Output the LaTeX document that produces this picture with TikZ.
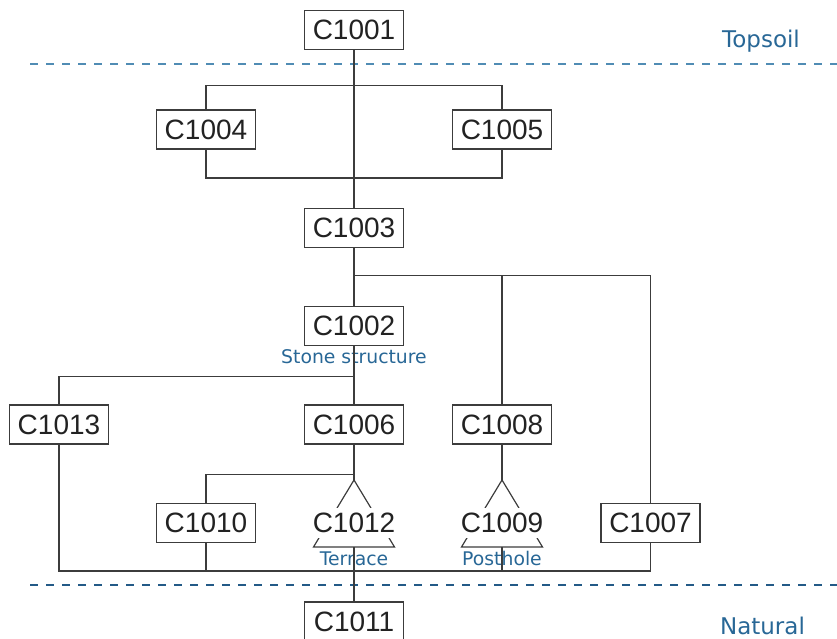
\documentclass[tikz,border=0pt]{standalone}
\usepackage{fontspec}
\setmainfont{Liberation Sans}
\newfontfamily\labelfont{DejaVu Sans}
\usetikzlibrary{calc}
\definecolor{ink}{HTML}{222222}
\definecolor{wire}{HTML}{3C3C3C}
\definecolor{zone}{RGB}{40,103,150}
\definecolor{topdash}{RGB}{80,140,180}
\definecolor{lowdash}{RGB}{35,90,135}

\begin{document}
\begin{tikzpicture}[x=1pt,y=-1pt,
  ctx/.style={draw=wire, line width=1.2pt, minimum width=99pt, minimum height=39pt,
    inner sep=0pt, text=ink, font=\fontsize{28}{28}\selectfont},
  ctxfree/.style={fill=white, minimum height=30pt, inner sep=0pt, text=ink,
    font=\fontsize{28}{28}\selectfont},
  link/.style={draw=wire, line width=1.2pt},
  note/.style={text=zone, font=\labelfont\fontsize{18.8}{18.8}\selectfont,
    inner sep=0pt, anchor=base},
  zonelabel/.style={text=zone, font=\labelfont\fontsize{23}{23}\selectfont,
    inner sep=0pt, anchor=base},
  boundary/.style={line width=1.3pt, dash pattern=on 8pt off 8pt}]
\useasboundingbox (0,0) rectangle (837,639);

% layer boundaries
\coordinate (topL) at (30,64);   \coordinate (topR) at (837,64);
\coordinate (lowL) at (30,585);  \coordinate (lowR) at (837,585);
\draw[boundary, topdash] (topL) -- (topR);
\draw[boundary, lowdash] (lowL) -- (lowR);
\node[zonelabel] (topsoil) at (761,47.5) {Topsoil};
\node[zonelabel] (natural) at (762.5,634) {Natural};

% contexts
\node[ctx] (c1001) at (354,30) {C1001};
\node[ctx] (c1004) at (206,129.5) {C1004};
\node[ctx] (c1005) at (502,129.5) {C1005};
\node[ctx] (c1003) at (354,228) {C1003};
\node[ctx] (c1002) at (354,326) {C1002};
\node[ctx] (c1013) at (59,424.5) {C1013};
\node[ctx] (c1006) at (354,424.5) {C1006};
\node[ctx] (c1008) at (502,424.5) {C1008};
\node[ctx] (c1010) at (206,523) {C1010};
\node[ctx] (c1007) at (650.5,523) {C1007};
\node[ctx] (c1011) at (354,621.5) {C1011};

% group contexts drawn inside a triangle
\coordinate (t12) at (354,523);
\coordinate (apex12) at ($(t12)+(0,-43)$);
\coordinate (base12) at ($(t12)+(0,24)$);
\draw[link] ($(t12)+(-40.5,24)$) -- (apex12) -- ($(t12)+(40.5,24)$) -- cycle;
\node[ctxfree] (c1012) at (t12) {C1012};

\coordinate (t9) at (502,523);
\coordinate (apex9) at ($(t9)+(0,-43)$);
\coordinate (base9) at ($(t9)+(0,24)$);
\draw[link] ($(t9)+(-40.5,24)$) -- (apex9) -- ($(t9)+(40.5,24)$) -- cycle;
\node[ctxfree] (c1009) at (t9) {C1009};

% notes
\node[note] (stone) at (354,363) {Stone structure};
\node[note] (terrace) at (354,565) {Terrace};
\node[note] (posthole) at (502,565) {Posthole};

% stratigraphic links
\draw[link] (c1001.south) -- (c1003.north);
\draw[link] (c1004.north) -- ++(0,-24) -| (c1005.north);
\draw[link] (c1004.south) -- ++(0,28.5) -| (c1005.south);
\draw[link] (c1003.south) -- (c1002.north);
\coordinate (fork3) at ($(c1003.south)+(0,27)$);
\draw[link] (fork3) -| (c1007.north);
\draw[link] (fork3 -| c1008.north) -- (c1008.north);
\draw[link] (c1002.south) -- (c1006.north);
\coordinate (fork2) at ($(c1002.south)+(0,30.5)$);
\draw[link] (fork2) -| (c1013.north);
\draw[link] (c1006.south) -- (apex12);
\coordinate (fork6) at ($(c1006.south)+(0,30)$);
\draw[link] (fork6) -| (c1010.north);
\draw[link] (c1008.south) -- (apex9);
\coordinate (floor) at (0,571);
\draw[link] (c1013.south) -- (c1013.south |- floor) -- (c1007.south |- floor) -- (c1007.south);
\draw[link] (c1010.south) -- (c1010.south |- floor);
\draw[link] (base9) -- (base9 |- floor);
\draw[link] (base12) -- (c1011.north);
\end{tikzpicture}
\end{document}
